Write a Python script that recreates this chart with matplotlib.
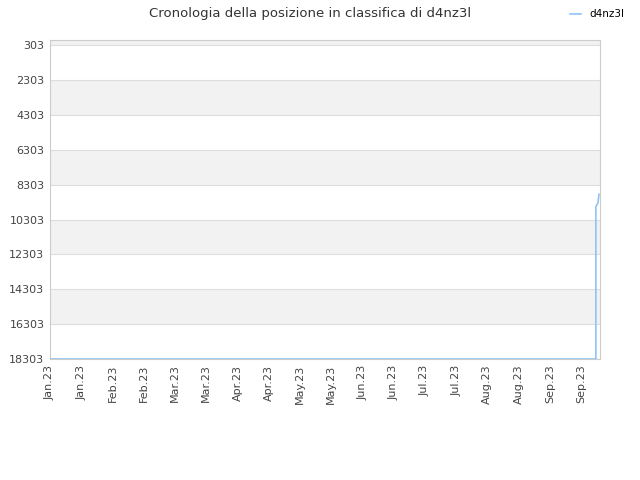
import matplotlib
matplotlib.use("Agg")
import matplotlib.pyplot as plt
import pandas as pd
import numpy as np

# ranking history (lower = better)
dates = ["2023-01-01 00:00", "2023-09-23 00:00", "2023-09-23 00:00",
         "2023-09-24 00:00", "2023-09-24 12:00"]
ranks = [18303, 18303, 9560, 9350, 8850]

y_ticks = [303, 2303, 4303, 6303, 8303, 10303, 12303, 14303, 16303, 18303]
months = ["Jan", "Feb", "Mar", "Apr", "May", "Jun", "Jul", "Aug", "Sep"]
x_labels = [m + ".23" for m in months for _ in range(2)]

x = pd.to_datetime(dates, format="%Y-%m-%d %H:%M")

fig = plt.figure(figsize=(6.4, 4.8), dpi=100)
ax = fig.add_axes([50 / 640, 1 - 359 / 480, 550 / 640, 319 / 480])

# alternating bands
bounds = [0] + y_ticks
for i in range(len(bounds) - 1):
    if i % 2 == 0:
        ax.axhspan(bounds[i], bounds[i + 1], color="#f2f2f2", zorder=0, lw=0)

ax.plot(x, ranks, color="#90c3f2", lw=1.2, label="d4nz3l", zorder=3)

start, end = pd.Timestamp("2023-01-01"), pd.Timestamp("2023-09-25")
ax.set_ylim(18303, 0)
ax.set_xlim(start, end)
ax.set_yticks(y_ticks)
# evenly spaced ticks, two per month
span = (end - start) * (531 / 550)
tick_pos = [start + span * i / 17 for i in range(18)]
ax.set_xticks(tick_pos)
ax.set_xticklabels(x_labels, rotation=90)
ax.tick_params(axis="both", labelsize=8, labelcolor="#444444", length=0, pad=4)
ax.grid(axis="y", color="#dddddd", lw=0.8, zorder=1)
for s in ax.spines.values():
    s.set_color("#cccccc")

fig.text(0.485, 0.972, "Cronologia della posizione in classifica di d4nz3l",
         ha="center", va="center", fontsize=9.5, color="#333333")
fig.legend(loc="upper right", bbox_to_anchor=(0.99, 1.0), frameon=False,
           fontsize=7.5, handlelength=1.0)

fig.savefig("out.png", dpi=100)
